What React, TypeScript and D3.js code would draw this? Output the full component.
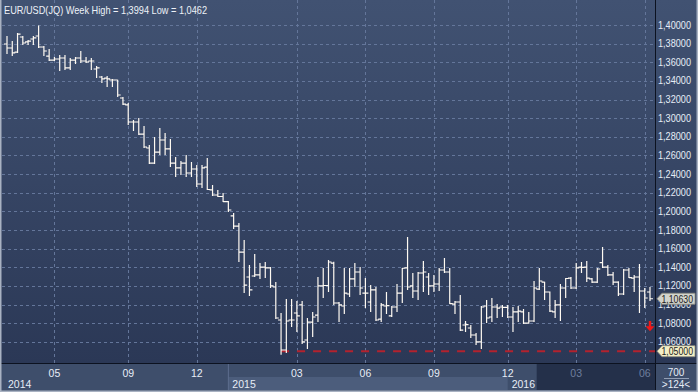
import React, { useEffect } from 'react';
import * as d3 from 'd3';

// weekly OHLC, EUR/USD
const open = [
  1.3796, 1.3753, 1.3710, 1.3871, 1.3818, 1.3850, 1.3882, 1.3764, 1.3667, 1.3624,
  1.3635, 1.3646, 1.3539, 1.3624, 1.3646, 1.3614, 1.3614, 1.3528, 1.3442, 1.3431,
  1.3410, 1.3410, 1.3217, 1.3142, 1.2959, 1.2959, 1.2830, 1.2680, 1.2519, 1.2637,
  1.2766, 1.2670, 1.2519, 1.2466, 1.2519, 1.2412, 1.2455, 1.2294, 1.2476, 1.2230,
  1.2176, 1.2160, 1.2105, 1.1951, 1.1843, 1.1564, 1.1296, 1.1307, 1.1318, 1.1403,
  1.1393, 1.1189, 1.0835, 1.0513, 1.0835, 1.0910, 1.0996, 1.0620, 1.0813, 1.0888,
  1.1200, 1.1205, 1.1446, 1.1017, 1.0985, 1.1114, 1.1275, 1.1350, 1.1124, 1.1028,
  1.1157, 1.0845, 1.0985, 1.0878, 1.0974, 1.1124, 1.1393, 1.1200, 1.1146, 1.1339,
  1.1296, 1.1200, 1.1221, 1.1371, 1.1350, 1.1006, 1.1028, 1.0781, 1.0749, 1.0674,
  1.0599, 1.0985, 1.0867, 1.0974, 1.0974, 1.0970, 1.0867, 1.0921, 1.0921, 1.0802,
  1.0824, 1.1167, 1.1242, 1.1135, 1.0921, 1.0996, 1.1178, 1.1285, 1.1178, 1.1403,
  1.1403, 1.1275, 1.1242, 1.1450, 1.1403, 1.1318, 1.1242, 1.1114, 1.1371, 1.1285,
  1.1296, 1.1146, 1.1135,
];
const high = [
  1.3882, 1.3828, 1.3914, 1.3882, 1.3839, 1.3882, 1.3994, 1.3775, 1.3743, 1.3657,
  1.3678, 1.3678, 1.3646, 1.3657, 1.3721, 1.3657, 1.3646, 1.3560, 1.3453, 1.3453,
  1.3421, 1.3412, 1.3228, 1.3163, 1.2981, 1.3002, 1.2916, 1.2712, 1.2798, 1.2895,
  1.2841, 1.2777, 1.2584, 1.2541, 1.2605, 1.2530, 1.2498, 1.2498, 1.2573, 1.2283,
  1.2230, 1.2197, 1.2112, 1.1983, 1.1876, 1.1693, 1.1425, 1.1543, 1.1446, 1.1457,
  1.1403, 1.1242, 1.0910, 1.1060, 1.1060, 1.1039, 1.1039, 1.0856, 1.0921, 1.1296,
  1.1393, 1.1479, 1.1460, 1.1028, 1.1393, 1.1393, 1.1446, 1.1403, 1.1285, 1.1210,
  1.1189, 1.1017, 1.1135, 1.0985, 1.1221, 1.1393, 1.1725, 1.1339, 1.1350, 1.1468,
  1.1339, 1.1318, 1.1393, 1.1500, 1.1393, 1.1039, 1.1103, 1.0824, 1.0781, 1.0695,
  1.0985, 1.1049, 1.1071, 1.1006, 1.0996, 1.0996, 1.0974, 1.0985, 1.0953, 1.0921,
  1.1253, 1.1393, 1.1245, 1.1140, 1.1049, 1.1221, 1.1285, 1.1296, 1.1446, 1.1457,
  1.1468, 1.1285, 1.1393, 1.1618, 1.1425, 1.1350, 1.1250, 1.1382, 1.1393, 1.1318,
  1.1436, 1.1178, 1.1189,
];
const low = [
  1.3689, 1.3667, 1.3700, 1.3785, 1.3785, 1.3785, 1.3753, 1.3667, 1.3614, 1.3614,
  1.3506, 1.3517, 1.3517, 1.3582, 1.3592, 1.3592, 1.3517, 1.3431, 1.3378, 1.3335,
  1.3335, 1.3228, 1.3142, 1.2927, 1.2863, 1.2820, 1.2680, 1.2509, 1.2509, 1.2605,
  1.2605, 1.2476, 1.2369, 1.2391, 1.2369, 1.2369, 1.2262, 1.2251, 1.2230, 1.2165,
  1.2154, 1.2101, 1.1994, 1.1811, 1.1457, 1.1124, 1.1092, 1.1296, 1.1275, 1.1285,
  1.1178, 1.0845, 1.0462, 1.0481, 1.0760, 1.0706, 1.0577, 1.0524, 1.0652, 1.0813,
  1.1071, 1.1135, 1.0996, 1.0813, 1.0899, 1.1081, 1.1189, 1.1103, 1.0963, 1.0921,
  1.0824, 1.0813, 1.0899, 1.0867, 1.0921, 1.1017, 1.1157, 1.1071, 1.1049, 1.1135,
  1.1103, 1.1135, 1.1146, 1.1339, 1.1006, 1.0899, 1.0717, 1.0706, 1.0642, 1.0566,
  1.0524, 1.0802, 1.0813, 1.0856, 1.0867, 1.0856, 1.0706, 1.0813, 1.0792, 1.0795,
  1.0813, 1.1157, 1.1049, 1.0921, 1.0856, 1.0824, 1.1071, 1.1167, 1.1167, 1.1339,
  1.1242, 1.1232, 1.1232, 1.1393, 1.1307, 1.1210, 1.1092, 1.1103, 1.1285, 1.1135,
  1.0910, 1.0963, 1.1039,
];
const close = [
  1.3753, 1.3700, 1.3903, 1.3807, 1.3828, 1.3861, 1.3764, 1.3721, 1.3624, 1.3635,
  1.3646, 1.3539, 1.3624, 1.3646, 1.3614, 1.3603, 1.3614, 1.3539, 1.3421, 1.3421,
  1.3410, 1.3249, 1.3152, 1.2959, 1.2959, 1.2830, 1.2691, 1.2519, 1.2637, 1.2766,
  1.2670, 1.2519, 1.2466, 1.2519, 1.2412, 1.2455, 1.2294, 1.2466, 1.2235, 1.2176,
  1.2160, 1.2105, 1.2015, 1.1843, 1.1564, 1.1210, 1.1157, 1.1318, 1.1403, 1.1393,
  1.1200, 1.0856, 1.0513, 1.0824, 1.0835, 1.0878, 1.0599, 1.0813, 1.0867, 1.1200,
  1.1205, 1.1457, 1.1017, 1.0996, 1.1124, 1.1275, 1.1350, 1.1178, 1.1124, 1.1157,
  1.0835, 1.0996, 1.0990, 1.0974, 1.1124, 1.1390, 1.1189, 1.1146, 1.1339, 1.1350,
  1.1200, 1.1221, 1.1371, 1.1350, 1.1010, 1.1028, 1.0727, 1.0785, 1.0674, 1.0599,
  1.0974, 1.0856, 1.0974, 1.0963, 1.0970, 1.0867, 1.0921, 1.0931, 1.0802, 1.0824,
  1.1178, 1.1253, 1.1135, 1.0931, 1.0996, 1.1178, 1.1280, 1.1178, 1.1393, 1.1400,
  1.1285, 1.1242, 1.1382, 1.1403, 1.1318, 1.1242, 1.1114, 1.1371, 1.1290, 1.1296,
  1.1146, 1.1071, 1.1063,
];

const yTicks = [1.40, 1.38, 1.36, 1.34, 1.32, 1.30, 1.28, 1.26, 1.24, 1.22, 1.20,
  1.18, 1.16, 1.14, 1.12, 1.10, 1.08, 1.06];
// month labels and the bar index they sit on
const monthLabels = ['05', '09', '12', '03', '06', '09', '12', '03', '06'];
const monthBars = [9, 23, 36, 55, 68, 81, 95, 108, 121];
const yearLabels = ['2014', '2015', '2016'];
const yearBars = [0, 42, 95];
const supportLevel = 1.05;
const supportFrom = 52;
const scrollFrom = 100.5; // axis part that is shaded dark

const W = 698;
const H = 392;
const FONT = '"Liberation Sans", Arial, sans-serif';
const fmt = (v: number) => d3.format('.5f')(v).replace('.', ',');

export default function App() {
  useEffect(() => {
    document.body.style.margin = '0';
  }, []);

  const plotRight = 655;
  const plotBottom = 363;
  const n = close.length;

  const x = d3.scaleLinear().domain([0, n - 1]).range([7, 650]);
  const y = d3.scaleLinear().domain([1.05, 1.40]).range([351.2, 25]);

  const bars = close.map((c, i) => {
    const cx = x(i);
    return `M${cx},${y(high[i])}V${y(low[i])}M${cx - 3},${y(open[i])}H${cx}M${cx},${y(c)}H${cx + 3}`;
  });

  const last = close[n - 1];
  const tag = (v: number, fill: string) => {
    const ty = y(v);
    return (
      <g key={v}>
        <path
          d={`M657,${ty} L662,${ty - 5.5} H695 V${ty + 5.5} H662 Z`}
          fill={fill}
          stroke="#8a8a80"
          strokeWidth={0.8}
        />
        <text x={661.5} y={ty + 3.8} fontSize={10} fill="#222" textLength={31.5} lengthAdjust="spacingAndGlyphs">
          {fmt(v)}
        </text>
      </g>
    );
  };

  const arrowX = x(n - 1);
  const ay0 = y(1.0825);
  const ay1 = y(1.0715);

  return (
    <div style={{ position: 'fixed', left: 0, top: 0 }}>
      <svg width={W} height={H} style={{ display: 'block', fontFamily: FONT }}>
        <defs>
          <linearGradient id="bg" x1="0" y1="0" x2="0" y2="1">
            <stop offset="0%" stopColor="#415272" />
            <stop offset="100%" stopColor="#2b3856" />
          </linearGradient>
        </defs>

        <rect x={0} y={0} width={W} height={plotBottom} fill="url(#bg)" />

        {/* grid */}
        {yTicks.map((t) => (
          <line key={t} x1={2} x2={plotRight} y1={Math.round(y(t)) + 0.5} y2={Math.round(y(t)) + 0.5}
            stroke="#64769a" strokeDasharray="3,3" strokeWidth={1} />
        ))}
        {monthBars.map((b, i) => (
          <line key={i} x1={Math.round(x(b)) + 0.5} x2={Math.round(x(b)) + 0.5} y1={0} y2={plotBottom}
            stroke="#64769a" strokeDasharray="3,3" strokeWidth={1} />
        ))}

        {/* support level */}
        <line x1={x(supportFrom)} x2={plotRight} y1={y(supportLevel)} y2={y(supportLevel)}
          stroke="#b3222e" strokeWidth={2} strokeDasharray="8,8" />

        {/* bars */}
        <path d={bars.join('')} stroke="#fffaf2" strokeWidth={1.2} fill="none" />

        {/* down arrow */}
        <path
          d={`M${arrowX},${ay1} L${arrowX - 4.5},${ay1 - 5} H${arrowX - 1.2} V${ay0} H${arrowX + 1.2} V${ay1 - 5} H${arrowX + 4.5} Z`}
          fill="#f01818"
        />

        {/* title */}
        <text x={4} y={14} fontSize={10.5} fill="#eef2f8" textLength={203} lengthAdjust="spacingAndGlyphs">
          EUR/USD(JQ) Week High = 1,3994 Low = 1,0462
        </text>

        {/* price axis */}
        {yTicks.map((t) => (
          <text key={t} x={658} y={y(t) + 3.5} fontSize={10} fill="#e6edf7" textLength={33} lengthAdjust="spacingAndGlyphs">
            {fmt(t)}
          </text>
        ))}
        {tag(last, '#d2d3cc')}
        {tag(supportLevel, '#f3efc6')}

        {/* time axis */}
        <rect x={0} y={plotBottom} width={W} height={H - plotBottom} fill="#3e4e6b" />
        <rect x={x(yearBars[1])} y={377} width={x(yearBars[2]) - x(yearBars[1])} height={13} fill="#4c5d7c" />
        <rect x={x(scrollFrom)} y={plotBottom} width={plotRight - x(scrollFrom)} height={27} fill="#24304a" />
        <line x1={x(yearBars[1])} x2={x(yearBars[1])} y1={plotBottom} y2={390} stroke="#5d6e8e" />
        {monthLabels.map((m, i) => (
          <text key={i} x={x(monthBars[i])} y={377} fontSize={10.5} textAnchor="middle"
            fill={monthBars[i] > scrollFrom ? '#6f7f9e' : '#e6edf7'}>
            {m}
          </text>
        ))}
        {yearLabels.map((yl, i) => (
          <text key={yl} x={(i === 0 ? 4 : x(yearBars[i])) + 4} y={388} fontSize={10.5} fill="#e6edf7">
            {yl}
          </text>
        ))}
        <text x={676} y={376} fontSize={10} textAnchor="middle" fill="#e6edf7">700</text>
        <line x1={664} x2={689} y1={378.5} y2={378.5} stroke="#a8b4c8" strokeWidth={0.8} />
        <text x={676} y={388} fontSize={10} textAnchor="middle" fill="#e6edf7">&gt;124&lt;</text>

        {/* frame lines */}
        <line x1={0} x2={W} y1={plotBottom + 0.5} y2={plotBottom + 0.5} stroke="#0c1220" strokeWidth={1} />
        <line x1={plotRight + 0.5} x2={plotRight + 0.5} y1={0} y2={390} stroke="#0c1220" strokeWidth={1} />
        <rect x={0.75} y={-2} width={W - 1.5} height={H - 0.75 + 2} fill="none" stroke="#a9b2c2" strokeWidth={1.5} />
      </svg>
    </div>
  );
}
